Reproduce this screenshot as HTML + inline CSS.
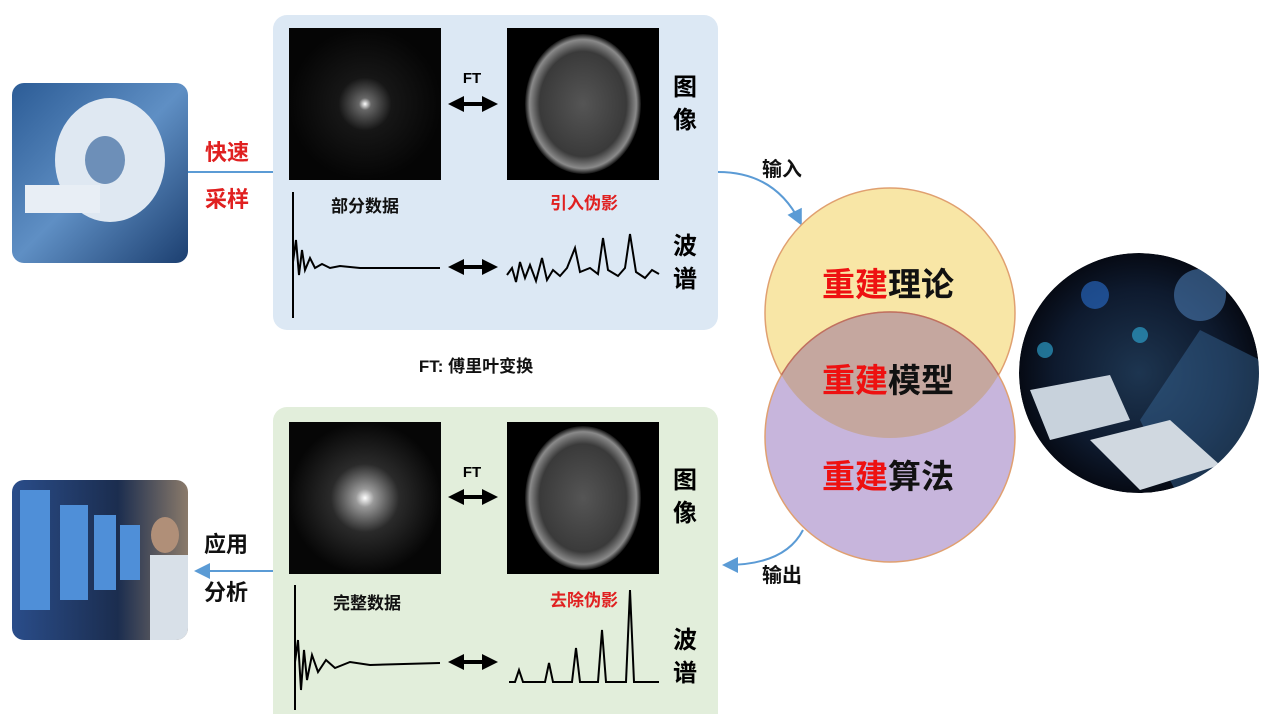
<!DOCTYPE html>
<html><head><meta charset="utf-8"><style>
html,body{margin:0;padding:0;background:#fff;}
svg{display:block;}
text{font-family:"Liberation Sans","Noto Sans CJK SC",sans-serif;font-weight:bold;}
</style></head><body>
<svg width="1269" height="714" viewBox="0 0 1269 714" xmlns="http://www.w3.org/2000/svg">
<defs>
<radialGradient id="ks1" cx="0.5" cy="0.5" r="0.5"><stop offset="0" stop-color="#fff"/><stop offset="0.08" stop-color="#666"/><stop offset="0.35" stop-color="#161616"/><stop offset="1" stop-color="#050505"/></radialGradient>
<radialGradient id="ks2" cx="0.5" cy="0.5" r="0.5"><stop offset="0" stop-color="#fff"/><stop offset="0.12" stop-color="#999"/><stop offset="0.45" stop-color="#2a2a2a"/><stop offset="1" stop-color="#060606"/></radialGradient>
<radialGradient id="br" cx="0.5" cy="0.5" r="0.5"><stop offset="0" stop-color="#555"/><stop offset="0.75" stop-color="#3a3a3a"/><stop offset="0.92" stop-color="#8a8a8a"/><stop offset="1" stop-color="#111"/></radialGradient>
<radialGradient id="ai" cx="0.5" cy="0.5" r="0.5"><stop offset="0" stop-color="#1d3550"/><stop offset="0.7" stop-color="#0e1a2e"/><stop offset="1" stop-color="#060a14"/></radialGradient>
<linearGradient id="mri" x1="0" y1="0" x2="1" y2="1"><stop offset="0" stop-color="#2c5c96"/><stop offset="0.5" stop-color="#5f8fc4"/><stop offset="1" stop-color="#1c3f70"/></linearGradient>
<linearGradient id="doc" x1="0" y1="0" x2="1" y2="0"><stop offset="0" stop-color="#2a4d8a"/><stop offset="0.6" stop-color="#1b2d4f"/><stop offset="1" stop-color="#8a7a6a"/></linearGradient>
<marker id="ah" markerWidth="8" markerHeight="8" refX="6" refY="4" orient="auto"><path d="M0,0 L8,4 L0,8 z" fill="#5b9bd5"/></marker>
<marker id="bk" markerWidth="4" markerHeight="4" refX="2" refY="2" orient="auto-start-reverse"><path d="M0,0 L4,2 L0,4 z" fill="#000"/></marker>
<clipPath id="c1"><rect x="12" y="83" width="176" height="180" rx="12"/></clipPath>
<clipPath id="c2"><rect x="12" y="480" width="176" height="160" rx="12"/></clipPath>
<clipPath id="c3"><circle cx="1139" cy="373" r="120"/></clipPath>
</defs>

<g clip-path="url(#c1)">
<rect x="12" y="83" width="176" height="180" fill="url(#mri)"/>
<ellipse cx="110" cy="160" rx="55" ry="62" fill="#dfe8f2"/>
<ellipse cx="105" cy="160" rx="20" ry="24" fill="#6d8fb8"/>
<rect x="25" y="185" width="75" height="28" fill="#e8eef5"/>
</g>
<g clip-path="url(#c2)">
<rect x="12" y="480" width="176" height="160" fill="url(#doc)"/>
<rect x="20" y="490" width="30" height="120" fill="#4f8fd8"/>
<rect x="60" y="505" width="28" height="95" fill="#4f8fd8"/>
<rect x="94" y="515" width="22" height="75" fill="#4f8fd8"/>
<rect x="120" y="525" width="20" height="55" fill="#4f8fd8"/>
<ellipse cx="165" cy="535" rx="14" ry="18" fill="#b08f78"/>
<rect x="150" y="555" width="38" height="85" fill="#d8e0e8"/>
</g>

<line x1="188" y1="172" x2="273" y2="172" stroke="#5b9bd5" stroke-width="2"/>
<line x1="273" y1="571" x2="198" y2="571" stroke="#5b9bd5" stroke-width="2" marker-end="url(#ah)"/>
<text x="205" y="160" font-size="22" fill="#e02020">快速</text>
<text x="205" y="207" font-size="22" fill="#e02020">采样</text>
<text x="204" y="552" font-size="22" fill="#111">应用</text>
<text x="204" y="600" font-size="22" fill="#111">分析</text>

<rect x="273" y="15" width="445" height="315" rx="14" fill="#dce8f4"/>
<rect x="289" y="28" width="152" height="152" fill="url(#ks1)"/>
<rect x="507" y="28" width="152" height="152" fill="#000"/>
<ellipse cx="583" cy="104" rx="58" ry="70" fill="url(#br)"/>
<text x="472" y="83" font-size="15" fill="#000" text-anchor="middle">FT</text>
<line x1="456" y1="104" x2="490" y2="104" stroke="#000" stroke-width="4" marker-start="url(#bk)" marker-end="url(#bk)"/>
<text x="673" y="95" font-size="24" fill="#000">图</text>
<text x="673" y="128" font-size="24" fill="#000">像</text>
<text x="365" y="212" font-size="17" fill="#111" text-anchor="middle">部分数据</text>
<text x="584" y="209" font-size="17" fill="#e02020" text-anchor="middle">引入伪影</text>
<path d="M293,192 V318 M293,262 L296,240 L299,275 L302,250 L305,270 L310,258 L315,268 L322,264 L330,268 L340,266 L360,268 L440,268" stroke="#000" stroke-width="2" fill="none"/>
<line x1="456" y1="267" x2="490" y2="267" stroke="#000" stroke-width="4" marker-start="url(#bk)" marker-end="url(#bk)"/>
<path d="M507,275 L512,268 L516,282 L520,262 L525,278 L530,265 L536,281 L542,258 L547,280 L553,270 L560,276 L567,268 L575,248 L580,272 L590,268 L598,274 L603,238 L608,270 L618,276 L625,268 L630,234 L636,272 L645,278 L652,270 L659,274" stroke="#000" stroke-width="2" fill="none"/>
<text x="673" y="254" font-size="24" fill="#000">波</text>
<text x="673" y="287" font-size="24" fill="#000">谱</text>

<text x="476" y="372" font-size="17" fill="#111" text-anchor="middle">FT: 傅里叶变换</text>

<rect x="273" y="407" width="445" height="320" rx="14" fill="#e2eedb"/>
<rect x="289" y="422" width="152" height="152" fill="url(#ks2)"/>
<rect x="507" y="422" width="152" height="152" fill="#000"/>
<ellipse cx="583" cy="498" rx="58" ry="72" fill="url(#br)"/>
<text x="472" y="477" font-size="15" fill="#000" text-anchor="middle">FT</text>
<line x1="456" y1="497" x2="490" y2="497" stroke="#000" stroke-width="4" marker-start="url(#bk)" marker-end="url(#bk)"/>
<text x="673" y="488" font-size="24" fill="#000">图</text>
<text x="673" y="521" font-size="24" fill="#000">像</text>
<text x="367" y="609" font-size="17" fill="#111" text-anchor="middle">完整数据</text>
<text x="584" y="606" font-size="17" fill="#e02020" text-anchor="middle">去除伪影</text>
<path d="M295,585 V710 M295,662 L298,640 L301,690 L304,650 L307,680 L312,655 L318,672 L326,660 L335,668 L350,662 L370,665 L440,663" stroke="#000" stroke-width="2" fill="none"/>
<line x1="456" y1="662" x2="490" y2="662" stroke="#000" stroke-width="4" marker-start="url(#bk)" marker-end="url(#bk)"/>
<path d="M509,682 L515,682 L519,670 L523,682 L545,682 L549,663 L553,682 L572,682 L576,648 L580,682 L598,682 L602,630 L606,682 L626,682 L630,590 L634,682 L659,682" stroke="#000" stroke-width="2" fill="none"/>
<text x="673" y="648" font-size="24" fill="#000">波</text>
<text x="673" y="681" font-size="24" fill="#000">谱</text>

<path d="M718,172 Q775,172 800,222" stroke="#5b9bd5" stroke-width="2" fill="none" marker-end="url(#ah)"/>
<path d="M803,530 Q785,565 726,565" stroke="#5b9bd5" stroke-width="2" fill="none" marker-end="url(#ah)"/>
<text x="762" y="176" font-size="20" fill="#111">输入</text>
<text x="762" y="582" font-size="20" fill="#111">输出</text>

<circle cx="890" cy="313" r="125" fill="#f8e6a6" stroke="#e0a070" stroke-width="1.5"/>
<circle cx="890" cy="437" r="125" fill="#c7b5dc" stroke="#e0a070" stroke-width="1.5"/>
<clipPath id="cp"><circle cx="890" cy="313" r="125"/></clipPath>
<circle cx="890" cy="437" r="125" fill="#c5a79f" clip-path="url(#cp)" stroke="#c07060" stroke-width="1.5"/>
<text x="888" y="296" font-size="33" text-anchor="middle"><tspan fill="#ee1111">重建</tspan><tspan fill="#111">理论</tspan></text>
<text x="888" y="392" font-size="33" text-anchor="middle"><tspan fill="#ee1111">重建</tspan><tspan fill="#111">模型</tspan></text>
<text x="888" y="488" font-size="33" text-anchor="middle"><tspan fill="#ee1111">重建</tspan><tspan fill="#111">算法</tspan></text>

<g clip-path="url(#c3)">
<circle cx="1139" cy="373" r="120" fill="url(#ai)"/>
<circle cx="1200" cy="295" r="26" fill="#4a7ab0" opacity="0.6"/>
<path d="M1140,420 L1200,330 L1260,360 L1260,480 L1180,500 z" fill="#3a6a9c" opacity="0.45"/>
<path d="M1030,390 L1110,375 L1130,420 L1050,440 z" fill="#c8d2dc"/>
<path d="M1090,440 L1170,420 L1220,465 L1140,490 z" fill="#d0d8e0"/>
<circle cx="1095" cy="295" r="14" fill="#2a6fd0" opacity="0.6"/>
<circle cx="1045" cy="350" r="8" fill="#30b0e0" opacity="0.6"/>
<circle cx="1140" cy="335" r="8" fill="#30b0e0" opacity="0.6"/>
</g>
</svg>
</body></html>
